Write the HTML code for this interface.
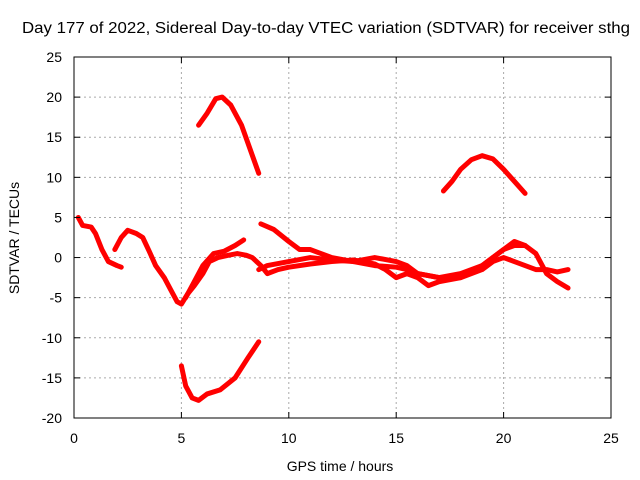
<!DOCTYPE html>
<html><head><meta charset="utf-8"><style>
body{margin:0;background:#fff}
svg{display:block;font-family:"Liberation Sans",sans-serif;font-size:14px}
</style></head><body>
<svg width="640" height="480">
<rect width="640" height="480" fill="#fff"/>
<text x="22" y="33" textLength="608" lengthAdjust="spacingAndGlyphs" style="font-size:15.5px">Day 177 of 2022, Sidereal Day-to-day VTEC variation (SDTVAR) for receiver sthg</text>
<g id="grid"></g>
<g id="series"></g>
<rect x="74" y="57" width="537" height="361" fill="none" stroke="#000"/>
<g id="ticks"></g>
<text x="340" y="471" text-anchor="middle">GPS time / hours</text>
<text transform="translate(19,238) rotate(-90)" text-anchor="middle">SDTVAR / TECUs</text>
</svg>
<script>
const xTicks=[0,5,10,15,20,25];
const yTicks=[25,20,15,10,5,0,-5,-10,-15,-20];
const trackTopArc=[[5.8,16.5],[6.2,18],[6.6,19.8],[6.9,20],[7.3,19],[7.8,16.5],[8.2,13.5],[8.6,10.5]];
const trackBottomArc=[[5,-13.5],[5.2,-16],[5.5,-17.5],[5.8,-17.8],[6.2,-17],[6.8,-16.5],[7.5,-15],[8.1,-12.5],[8.6,-10.5]];
const trackRightArc=[[17.2,8.3],[17.6,9.5],[18,11],[18.5,12.2],[19,12.7],[19.5,12.3],[20,11],[20.5,9.5],[21,8]];
const trackEarly=[[0.2,5],[0.4,4],[0.8,3.8],[1,3],[1.3,1],[1.6,-0.5],[2,-1],[2.2,-1.2]];
const trackMain=[[1.9,1],[2.2,2.5],[2.5,3.4],[2.9,3],[3.2,2.5],[3.5,0.8],[3.8,-1],[4.2,-2.5],[4.5,-4],[4.8,-5.5],[5,-5.8],[5.3,-4.5],[5.6,-3.5],[6,-2],[6.3,-0.5],[6.7,0],[7.2,0.3],[7.6,0.5],[8,0.3],[8.3,0],[8.7,-1],[9,-2],[9.5,-1.5],[10,-1.2],[11,-0.8],[12,-0.5],[13,-0.3],[14,-0.8],[14.5,-1.5],[15,-2.5],[15.5,-2],[16,-2.5],[16.5,-3.5],[17,-3],[18,-2.5],[19,-1.5],[19.5,-0.5],[20,0],[20.5,-0.5],[21,-1],[21.5,-1.5],[22,-1.5],[22.5,-1.8],[23,-1.5]];
const trackRise=[[5.2,-5],[5.6,-3],[6,-1],[6.5,0.5],[7,0.8],[7.5,1.5],[7.9,2.2]];
const trackLate=[[8.7,4.2],[9.3,3.5],[10,2],[10.5,1],[11,1],[11.5,0.5],[12,0],[13,-0.5],[14,-1],[15,-1.2],[15.5,-1.5],[16,-2],[17,-2.5],[18,-2],[18.5,-1.5],[19,-1],[19.5,0],[20,1],[20.5,1.5],[21,1.5],[21.5,0.5],[22,-2],[22.5,-3],[23,-3.8]];
const trackMid=[[8.6,-1.5],[9,-1],[10,-0.5],[11,0],[12,-0.3],[13,-0.5],[14,0],[15,-0.5],[15.5,-1],[16,-2],[17,-2.5],[18,-2.5],[19,-1],[20,1],[20.5,2],[21,1.5]];
const tracks=[trackTopArc,trackBottomArc,trackRightArc,trackEarly,trackMain,trackRise,trackLate,trackMid];
const trackNames=['track-top-arc','track-bottom-arc','track-right-arc','track-early','track-main','track-rise','track-late','track-mid'];
const X=v=>74+(v-0)*537/25;
const Y=v=>418-(v+20)*361/45;
const ns='http://www.w3.org/2000/svg';
const grid=document.getElementById('grid'),ticks=document.getElementById('ticks'),ser=document.getElementById('series');
function mk(tag,attrs,parent){const e=document.createElementNS(ns,tag);for(const k in attrs)e.setAttribute(k,attrs[k]);parent.appendChild(e);return e;}
xTicks.forEach(t=>{
 if(t>0&&t<25){const g=mk('line',{x1:X(t),x2:X(t),y1:57,y2:418,stroke:'#aaa','stroke-dasharray':'2,3'},grid);
 
 }
 const l=mk('text',{x:X(t),y:443,'text-anchor':'middle'},ticks);l.textContent=t;
 
 
 mk('line',{x1:X(t),x2:X(t),y1:418,y2:412,stroke:'#000'},ticks);
 mk('line',{x1:X(t),x2:X(t),y1:57,y2:63,stroke:'#000'},ticks);
});
yTicks.forEach(t=>{
 if(t>-20&&t<25){const g=mk('line',{x1:74,x2:611,y1:Y(t),y2:Y(t),stroke:'#aaa','stroke-dasharray':'2,3'},grid);
 
 }
 const l=mk('text',{x:62,y:Y(t)+5,'text-anchor':'end'},ticks);l.textContent=t;
 
 
 mk('line',{x1:74,x2:80,y1:Y(t),y2:Y(t),stroke:'#000'},ticks);
 mk('line',{x1:611,x2:605,y1:Y(t),y2:Y(t),stroke:'#000'},ticks);
});
tracks.forEach((tr,i)=>{
 const p=mk('polyline',{points:tr.map(d=>X(d[0])+','+Y(d[1])).join(' '),fill:'none',stroke:'#f00','stroke-width':5,'stroke-linejoin':'round','stroke-linecap':'round'},ser);
 
 
});
</script>
</body></html>
